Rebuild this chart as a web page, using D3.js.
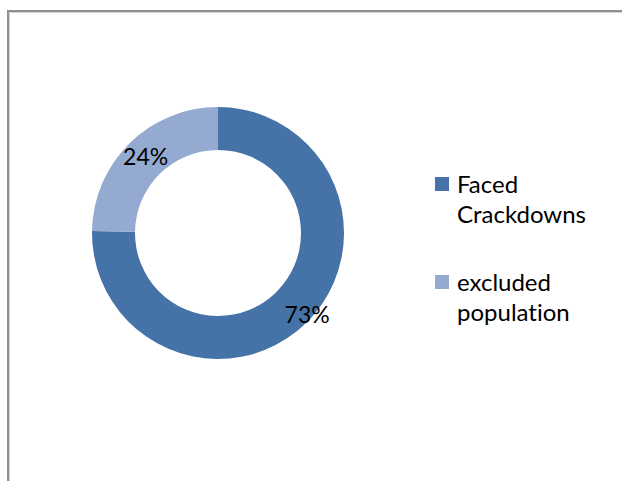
<!DOCTYPE html>
<html>
<head>
<meta charset="utf-8">
<script src="https://cdn.jsdelivr.net/npm/d3@7"></script>
<style>
  html, body { margin: 0; padding: 0; background: #fff; }
  svg { display: block; }
  text { font-family: Lato, "Open Sans", sans-serif; fill: #000; font-variant-ligatures: none; }
</style>
</head>
<body>
<svg id="chart" width="622" height="481"></svg>
<script>
// Share of the population by outcome
const categories = ["Faced Crackdowns", "excluded population"];
const values = [73, 24];
const valueLabels = ["73%", "24%"];
const legendLines = [["Faced", "Crackdowns"], ["excluded", "population"]];
const colors = ["#4673a7", "#94aad0"];

const svg = d3.select("#chart");

// chart area frame (left and top edges)
svg.append("path")
  .attr("d", "M8,481V11H622")
  .attr("fill", "none")
  .attr("stroke", "#8f8f8f")
  .attr("stroke-width", 2);
svg.append("path")
  .attr("d", "M9.5,481V12.5H622")
  .attr("fill", "none")
  .attr("stroke", "#d4d4d4")
  .attr("stroke-width", 1);

const cx = 218, cy = 233;
const outerR = 126, innerR = 83;
// distance of each value label from the centre, plus a small nudge
const labelRadius = [120, 106];
const labelNudge = [[5, -4], [2, -1]];

const data = categories.map((c, i) => ({ category: c, value: values[i], label: valueLabels[i], color: colors[i], r: labelRadius[i], nudge: labelNudge[i] }));

const pie = d3.pie().value(d => d.value).sort(null);
const arc = d3.arc().innerRadius(innerR).outerRadius(outerR);

const g = svg.append("g").attr("transform", `translate(${cx},${cy})`);
const arcs = pie(data);

g.selectAll("path.slice")
  .data(arcs)
  .join("path")
  .attr("class", "slice")
  .attr("d", arc)
  .attr("fill", d => d.data.color);

// value labels placed on each slice's bisector
g.selectAll("text.val")
  .data(arcs)
  .join("text")
  .attr("class", "val")
  .attr("transform", d => {
    const [x, y] = d3.arc().innerRadius(d.data.r).outerRadius(d.data.r).centroid(d);
    return `translate(${x + d.data.nudge[0]},${y + d.data.nudge[1]})`;
  })
  .attr("text-anchor", "middle")
  .attr("dy", "0.35em")
  .style("font-size", "23px")
  .text(d => d.data.label);

// legend
const legend = svg.append("g").attr("transform", "translate(435,177)");
const items = legend.selectAll("g.item")
  .data(data)
  .join("g")
  .attr("class", "item")
  .attr("transform", (d, i) => `translate(0,${i * 98})`);

items.append("rect")
  .attr("width", 14)
  .attr("height", 14)
  .attr("fill", d => d.color);

items.append("text")
  .attr("x", 22)
  .attr("y", 16)
  .style("font-size", "24px")
  .selectAll("tspan")
  .data((d, i) => legendLines[i])
  .join("tspan")
  .attr("x", 22)
  .attr("dy", (d, j) => j === 0 ? 0 : 30)
  .text(d => d);
</script>
</body>
</html>
